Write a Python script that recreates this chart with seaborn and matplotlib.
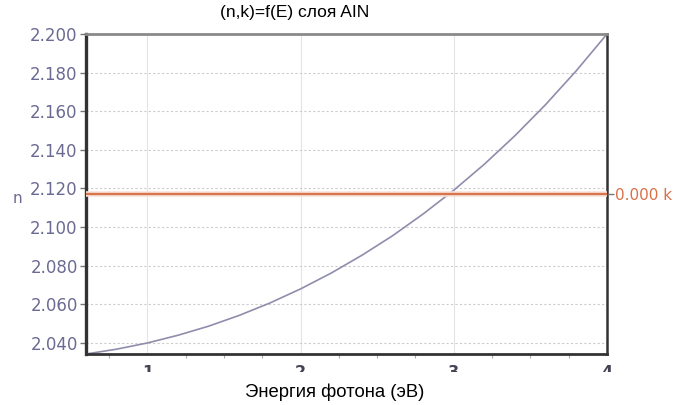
import numpy as np
import pandas as pd
import matplotlib
matplotlib.use("Agg")
import matplotlib.pyplot as plt
from matplotlib.patches import Rectangle
from matplotlib.ticker import MultipleLocator
import seaborn as sns

# Photon energy (eV) and refractive index n of the AlN layer
energy = [0.6, 0.8, 1.0, 1.2, 1.4, 1.6, 1.8, 2.0, 2.2, 2.4, 2.6, 2.8,
          3.0, 3.2, 3.4, 3.6, 3.8, 4.0]
n_values = [2.0343, 2.0368, 2.0400, 2.0440, 2.0487, 2.0543, 2.0607, 2.0680,
            2.0762, 2.0854, 2.0955, 2.1068, 2.1191, 2.1326, 2.1474, 2.1635,
            2.1810, 2.2000]
# Extinction coefficient k (zero across the range)
k_energy = [0.6, 4.0]
k_values = [0.0, 0.0]

n_ticks = [2.040, 2.060, 2.080, 2.100, 2.120, 2.140, 2.160, 2.180, 2.200]
e_ticks = [1, 2, 3, 4]

title_text = "(n,k)=f(E) слоя AIN"
x_label = "Энергия фотона (эВ)"

sns.set_theme(style="white")
plt.rcParams["font.family"] = ["DejaVu Sans"]

tick_color = "#6b6a92"
curve_color = "#8f8dac"
k_color = "#d6764c"

df_n = pd.DataFrame({"E": energy, "n": n_values})
df_k = pd.DataFrame({"E": k_energy, "k": k_values})

fig = plt.figure(figsize=(6.92, 4.05), dpi=100)
ax = fig.add_axes([86 / 692, 1 - 354 / 405, (607 - 86) / 692, (354 - 34) / 405])

sns.lineplot(data=df_n, x="E", y="n", ax=ax, color=curve_color, lw=1.2)

ax.set_xlim(0.6, 4.0)
ax.set_ylim(2.0343, 2.200)
ax.set_xticks(e_ticks)
ax.set_xticklabels([str(t) for t in e_ticks], fontweight="bold")
ax.xaxis.set_minor_locator(MultipleLocator(0.25))
ax.set_yticks(n_ticks)
ax.set_yticklabels([f"{t:.3f}" for t in n_ticks])
ax.set_xlabel("")
ax.set_ylabel("")

ax.grid(axis="y", color="#cccccc", lw=0.8, ls=(0, (2, 2)))
ax.grid(axis="x", color="#e4e4e4", lw=0.8, ls="-")

ax.tick_params(axis="y", which="major", direction="out", length=4, width=1,
               color="#777777", labelsize=12, labelcolor=tick_color, pad=2,
               left=True)
ax.tick_params(axis="x", which="major", direction="out", length=0,
               labelsize=11.5, labelcolor="#444455", pad=8, bottom=True)
ax.tick_params(axis="x", which="minor", direction="out", length=3, width=0.8,
               color="#aaaaaa", bottom=True)

for side, col, lw in [("top", "#8a8a8a", 2.0), ("left", "#333333", 2.4),
                      ("bottom", "#333333", 2.0), ("right", "#333333", 1.8)]:
    ax.spines[side].set_visible(True)
    ax.spines[side].set_color(col)
    ax.spines[side].set_linewidth(lw)

# k on a secondary axis, its zero level sits at mid height
ax2 = ax.twinx()
sns.lineplot(data=df_k, x="E", y="k", ax=ax2, color="#f9e3da", lw=4.0, zorder=1)
sns.lineplot(data=df_k, x="E", y="k", ax=ax2, color=k_color, lw=1.7, zorder=2)
ax2.set_ylim(-1.0, 1.0)
ax2.set_yticks([0.0])
ax2.set_yticklabels(["0.000 k"])
ax2.set_ylabel("")
ax2.tick_params(axis="y", direction="out", length=5, width=1, color="#777777",
                labelsize=11, labelcolor="#d9704a", pad=1, right=True)
for side in ["top", "left", "bottom", "right"]:
    ax2.spines[side].set_visible(False)

fig.text(17 / 692, 1 - 198 / 405, "n", color=tick_color, fontsize=11,
         ha="center", va="center")
fig.text(295 / 692, 1 - 13 / 405, title_text, color="black", fontsize=12.5,
         family="Liberation Sans", ha="center", va="center")
fig.text(335 / 692, 1 - 392 / 405, x_label, color="black", fontsize=13.3,
         family="Liberation Sans", ha="center", va="center")

# the energy labels are cut off by the lower frame of the plotting window
clip = Rectangle((0, 1 - 372 / 405), 1, 1, transform=fig.transFigure,
                 facecolor="none", edgecolor="none")
for lab in ax.get_xticklabels():
    lab.set_clip_on(True)
    lab.set_clip_path(clip)

fig.savefig("out.png", dpi=100)
